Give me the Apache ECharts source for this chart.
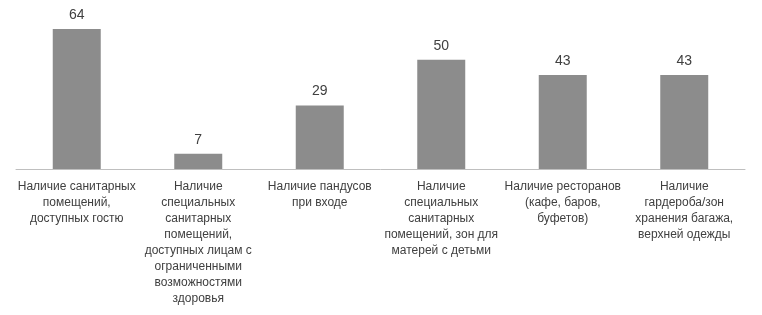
<!DOCTYPE html>
<html>
<head>
<meta charset="utf-8">
<script src="https://cdn.jsdelivr.net/npm/echarts@6/dist/echarts.min.js"></script>
<style>
html, body { margin: 0; padding: 0; background: #fff; }
#chart { width: 762px; height: 315px; }
</style>
</head>
<body>
<div id="chart"></div>
<script>
// категории (переносы строк как на исходной диаграмме)
var categories = [
    'Наличие санитарных\nпомещений,\nдоступных гостю',
    'Наличие\nспециальных\nсанитарных\nпомещений,\nдоступных лицам с\nограниченными\nвозможностями\nздоровья',
    'Наличие пандусов\nпри входе',
    'Наличие\nспециальных\nсанитарных\nпомещений, зон для\nматерей с детьми',
    'Наличие ресторанов\n(кафе, баров,\nбуфетов)',
    'Наличие\nгардероба/зон\nхранения багажа,\nверхней одежды'
];
var values = [64, 7, 29, 50, 43, 43];

var myChart = echarts.init(document.getElementById('chart'));

var option = {
    animation: false,
    grid: {
        left: 16,
        right: 17,
        top: 16,
        bottom: 146,
        containLabel: false
    },
    xAxis: {
        type: 'category',
        data: categories,
        axisLine: { lineStyle: { color: '#bfbfbf', width: 1 } },
        axisTick: { show: false },
        axisLabel: {
            interval: 0,
            margin: 10,
            color: '#404040',
            fontFamily: 'Liberation Sans',
            fontSize: 12,
            lineHeight: 16,
            align: 'center'
        }
    },
    yAxis: {
        type: 'value',
        min: 0,
        max: 70,
        show: false,
        splitLine: { show: false }
    },
    series: [
        {
            type: 'bar',
            data: values,
            barWidth: '39.5%',
            itemStyle: { color: '#8c8c8c' },
            label: {
                show: true,
                position: 'top',
                distance: 7,
                color: '#404040',
                fontFamily: 'Liberation Sans',
                fontSize: 14
            }
        }
    ]
};

myChart.setOption(option);
</script>
</body>
</html>
